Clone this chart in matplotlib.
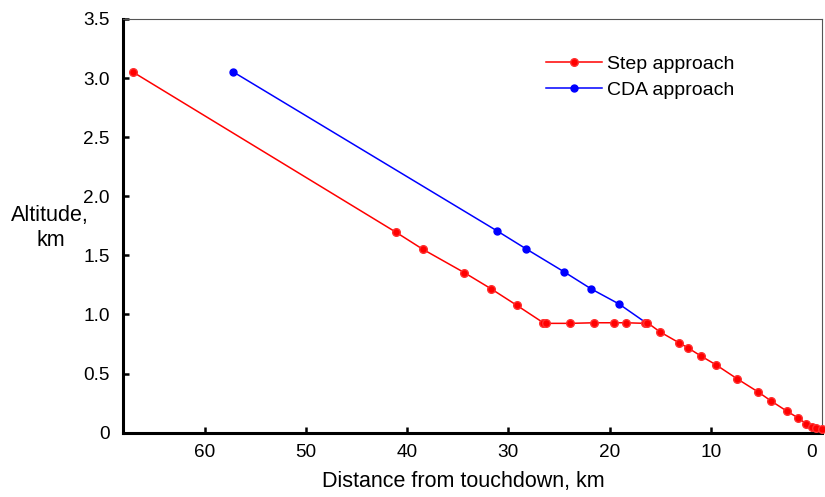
import matplotlib
matplotlib.use("Agg")
import matplotlib.pyplot as plt

plt.rcParams['font.family'] = ['Liberation Sans', 'DejaVu Sans']

# Step approach (red): distance from touchdown (km), altitude (km)
step_dist = [67.1, 41.1, 38.47, 34.36, 31.69, 29.18, 26.55, 26.28, 23.88, 21.51,
             19.52, 18.36, 16.50, 16.26, 15.0, 13.14, 12.28, 10.97, 9.46, 7.41,
             5.34, 4.01, 2.49, 1.35, 0.56, -0.05, -0.40, -1.0]
step_alt = [3.05, 1.695, 1.552, 1.354, 1.216, 1.078, 0.93, 0.925, 0.925, 0.93,
            0.93, 0.93, 0.925, 0.93, 0.852, 0.761, 0.719, 0.649, 0.573, 0.457,
            0.346, 0.267, 0.183, 0.124, 0.075, 0.05, 0.038, 0.027]

# CDA approach (blue)
cda_dist = [57.2, 31.1, 28.29, 24.54, 21.81, 19.07, 16.4]
cda_alt = [3.052, 1.706, 1.557, 1.363, 1.216, 1.089, 0.93]

x_ticks = [60, 50, 40, 30, 20, 10, 0]
y_ticks = [0, 0.5, 1.0, 1.5, 2.0, 2.5, 3.0, 3.5]
y_labels = ['0', '0.5', '1.0', '1.5', '2.0', '2.5', '3.0', '3.5']

W, H = 825, 497
fig = plt.figure(figsize=(W / 100, H / 100), dpi=100)
ax = fig.add_axes([0.1491, 0.1294, 0.8473, 0.8324])

ax.plot(cda_dist, cda_alt, '-', color='#0000ff', linewidth=1.1, marker='o',
        markersize=5, markevery=list(range(len(cda_dist) - 1)),
        label='CDA approach', zorder=3, clip_on=False)
ax.plot(step_dist, step_alt, '-', color='#ff0000', linewidth=1.1, marker='o',
        markersize=5.5, markeredgecolor='#ff3030', label='Step approach',
        zorder=4, clip_on=False)

ax.set_xlim(68.1, -1.0)
ax.set_ylim(0, 3.5)
ax.set_xticks(x_ticks)
ax.set_xticklabels([str(t) for t in x_ticks])
ax.set_yticks(y_ticks)
ax.set_yticklabels(y_labels)

ax.tick_params(direction='in', length=4, width=1.8, labelsize=13.7, color='black')
ax.tick_params(axis='x', pad=8)
ax.tick_params(axis='y', pad=9.5)

for side in ['left', 'bottom']:
    ax.spines[side].set_linewidth(2.2)
    ax.spines[side].set_color('black')
for side in ['top', 'right']:
    ax.spines[side].set_linewidth(0.8)
    ax.spines[side].set_color('#555555')

# axis titles placed by pixel position of the reference
fig.text(463.5 / W, 1 - 486.7 / H, 'Distance from touchdown, km', fontsize=15.5,
         ha='center', va='baseline')
fig.text(50 / W, 1 - 220.7 / H, 'Altitude,', fontsize=15.5, ha='center', va='baseline')
fig.text(51 / W, 1 - 245.7 / H, 'km', fontsize=15.5, ha='center', va='baseline')

handles, labels = ax.get_legend_handles_labels()
ax.legend(handles[::-1], labels[::-1], loc='upper left',
          bbox_to_anchor=((546 - 123) / 699, (432.7 - 55) / 413.7),
          frameon=False, fontsize=14, handlelength=2.9, handletextpad=0.25,
          borderpad=0, borderaxespad=0, labelspacing=0.45)

fig.savefig('out.png', dpi=100)
